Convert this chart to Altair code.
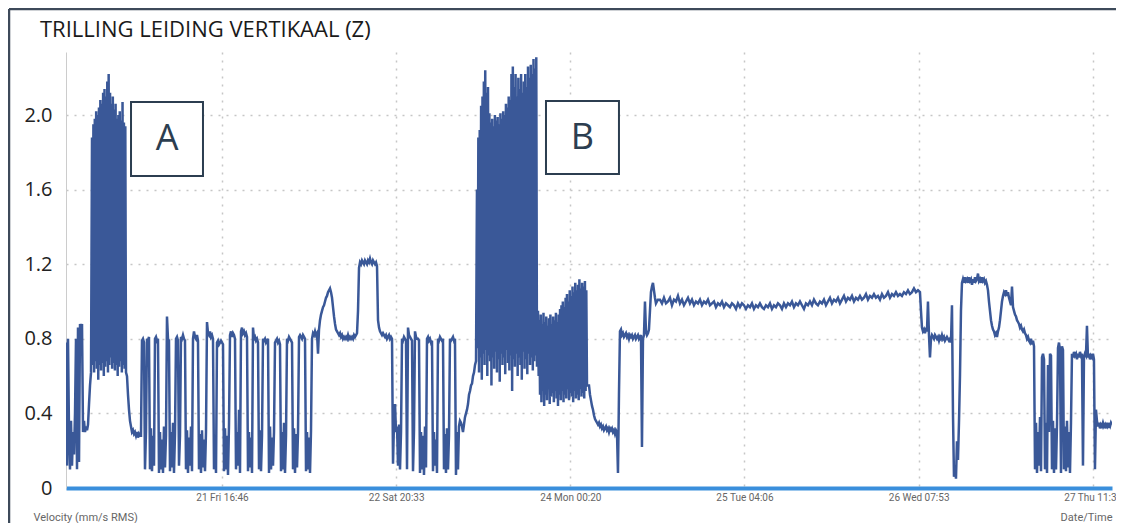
import altair as alt
import numpy as np
import pandas as pd

# ---------------------------------------------------------------- data
START = "2019-06-20 15:53"
END_HOURS = 166.84          # length of the recording shown, hours
Y_MAX = 2.338
CHART_TITLE = "TRILLING LEIDING VERTIKAAL (Z)"

tick_times = ["2019-06-21 16:46", "2019-06-22 20:33", "2019-06-24 00:20",
              "2019-06-25 04:06", "2019-06-26 07:53", "2019-06-27 11:39"]
y_grid_values = [0.0, 0.2, 0.4, 0.6, 0.8, 1.0, 1.2, 1.4, 1.6, 1.8, 2.0, 2.2]

# each block: (start hour, end hour) and readings sampled evenly inside it
s1_span = (0.00, 3.99)
s1_vals = [0.78, 0.12, 0.80, 0.30, 0.10, 0.36, 0.12, 0.30, 0.18, 0.40, 0.80, 0.10, 0.86,
           0.14, 0.88, 0.78, 0.88, 0.30, 0.36, 0.30, 0.33, 0.31, 0.34, 0.45, 0.55, 0.62]

a_span = (4.15, 9.57)   # episode A: peaks / troughs
a_hi = [1.88, 1.95, 1.98, 2.02, 2.00, 2.04, 2.08, 2.06, 2.12, 2.14, 2.10, 2.18, 2.22,
        2.12, 2.06, 2.10, 2.03, 2.06, 1.98, 2.00, 2.02, 1.97, 2.07, 1.96, 1.94]
a_lo = [0.66, 0.62, 0.68, 0.64, 0.58, 0.66, 0.63, 0.67, 0.60, 0.65, 0.68, 0.62, 0.66,
        0.70, 0.64, 0.67, 0.63, 0.66, 0.60, 0.65, 0.68, 0.62, 0.66, 0.64, 0.62]

s2_span = (9.73, 11.80)
s2_vals = [0.60, 0.50, 0.42, 0.36, 0.33, 0.30, 0.31, 0.29, 0.30, 0.28, 0.30, 0.27, 0.29, 0.28]

p1_span = (11.96, 39.08)
p1_vals = [0.28, 0.79, 0.80, 0.78, 0.10, 0.30, 0.80, 0.79, 0.81, 0.10,
           0.32, 0.09, 0.28, 0.12, 0.80, 0.81, 0.79, 0.80, 0.08, 0.30,
           0.10, 0.26, 0.08, 0.33, 0.11, 0.28, 0.92, 0.80, 0.79, 0.09,
           0.30, 0.11, 0.35, 0.08, 0.29, 0.80, 0.81, 0.79, 0.12, 0.28,
           0.81, 0.80, 0.82, 0.80, 0.79, 0.10, 0.31, 0.08, 0.27, 0.12,
           0.33, 0.09, 0.80, 0.84, 0.81, 0.80, 0.82, 0.79, 0.10, 0.29,
           0.08, 0.31, 0.11, 0.26, 0.09, 0.30, 0.89, 0.83, 0.82, 0.84,
           0.81, 0.82, 0.80, 0.10, 0.28, 0.08, 0.78, 0.79, 0.77, 0.78,
           0.79, 0.78, 0.77, 0.09, 0.32, 0.10, 0.28, 0.07, 0.34, 0.82,
           0.84, 0.81, 0.83, 0.82, 0.80, 0.10, 0.30, 0.12, 0.42, 0.08,
           0.84, 0.86, 0.83, 0.84, 0.82, 0.83, 0.81, 0.09, 0.30, 0.11,
           0.27, 0.08, 0.86, 0.80, 0.81, 0.79, 0.80, 0.78, 0.10, 0.31,
           0.09, 0.28, 0.80, 0.79, 0.80, 0.78, 0.79, 0.80, 0.08, 0.33,
           0.10, 0.27, 0.12, 0.30, 0.78, 0.79, 0.80, 0.78, 0.79, 0.77,
           0.09, 0.30, 0.10, 0.35, 0.08, 0.28, 0.80, 0.79, 0.81, 0.80,
           0.79, 0.78, 0.10, 0.32, 0.08, 0.29, 0.11, 0.30, 0.81, 0.82,
           0.81, 0.80, 0.82, 0.81, 0.80, 0.09, 0.30, 0.10, 0.27, 0.08, 0.31]

pl_span = (39.24, 52.00)
pl_vals = [0.80, 0.83, 0.82, 0.84, 0.82, 0.83, 0.72, 0.85, 0.90, 0.93,
           0.95, 0.97, 0.98, 1.00, 1.02, 1.03, 1.05, 1.06, 1.07, 1.05,
           1.02, 0.97, 0.92, 0.88, 0.85, 0.84, 0.83, 0.82, 0.83, 0.81,
           0.82, 0.80, 0.81, 0.80, 0.81, 0.80, 0.82, 0.80, 0.81, 0.80,
           0.81, 0.80, 0.82, 0.81, 0.82, 0.83, 0.95, 1.18, 1.21, 1.20,
           1.22, 1.21, 1.20, 1.22, 1.21, 1.20, 1.22, 1.21, 1.23, 1.21,
           1.20, 1.22, 1.21, 1.20, 1.21, 1.19, 0.90, 0.86, 0.84, 0.83,
           0.82, 0.83, 0.82, 0.81, 0.82, 0.80, 0.81, 0.82, 0.80, 0.81, 0.80]

p2_span = (52.16, 62.68)
p2_vals = [0.13, 0.36, 0.45, 0.30, 0.33, 0.12, 0.34, 0.10, 0.30, 0.80,
           0.79, 0.81, 0.80, 0.79, 0.10, 0.86, 0.82, 0.81, 0.80, 0.79,
           0.09, 0.31, 0.84, 0.81, 0.80, 0.80, 0.79, 0.08, 0.30, 0.10,
           0.28, 0.07, 0.33, 0.11, 0.80, 0.81, 0.79, 0.80, 0.78, 0.79,
           0.09, 0.30, 0.12, 0.26, 0.08, 0.80, 0.79, 0.81, 0.80, 0.79,
           0.80, 0.10, 0.29, 0.08, 0.32, 0.10, 0.28, 0.80, 0.79, 0.80,
           0.81, 0.79, 0.80, 0.07, 0.30, 0.10, 0.33]

r_span = (62.84, 65.40)
r_vals = [0.36, 0.35, 0.33, 0.30, 0.34, 0.38, 0.40, 0.42, 0.45, 0.50, 0.52, 0.55,
          0.56, 0.60, 0.62, 0.66, 0.68]

b1_span = (65.55, 75.12)   # episode B, first part
b1_hi = [1.60, 1.88, 1.92, 2.05, 2.10, 2.18, 2.24, 2.12, 2.15, 2.01, 1.96, 1.98, 1.94,
         2.00, 1.97, 1.99, 1.95, 2.01, 1.98, 2.02, 2.00, 2.06, 2.04, 2.10, 2.08, 2.22,
         2.26, 2.15, 2.22, 2.10, 2.20, 2.14, 2.22, 2.12, 2.18, 2.22, 2.15, 2.26, 2.20,
         2.27, 2.22, 2.30, 2.25, 2.31]
b1_lo = [0.75, 0.62, 0.70, 0.58, 0.72, 0.66, 0.74, 0.60, 0.71, 0.68, 0.55, 0.70, 0.64,
         0.73, 0.62, 0.69, 0.57, 0.72, 0.66, 0.70, 0.61, 0.74, 0.67, 0.63, 0.71, 0.52,
         0.69, 0.65, 0.72, 0.60, 0.70, 0.66, 0.58, 0.73, 0.64, 0.69, 0.61, 0.72, 0.66,
         0.70, 0.63, 0.68, 0.71, 0.65]

b2_span = (75.28, 83.10)   # episode B, second part
b2_hi = [0.95, 0.90, 0.93, 0.88, 0.94, 0.89, 0.92, 0.87, 0.91, 0.93, 0.88, 0.92,
         0.90, 0.94, 0.89, 0.93, 0.96, 0.98, 1.00, 0.97, 1.02, 1.04, 1.00, 1.06,
         1.03, 1.08, 1.05, 1.10, 1.06, 1.09, 1.12, 1.07, 1.10, 1.08, 1.11, 1.06]
b2_lo = [0.60, 0.50, 0.46, 0.52, 0.44, 0.50, 0.47, 0.53, 0.45, 0.49, 0.51, 0.46,
         0.52, 0.48, 0.44, 0.50, 0.47, 0.52, 0.46, 0.50, 0.48, 0.53, 0.47, 0.51,
         0.49, 0.46, 0.52, 0.48, 0.50, 0.47, 0.53, 0.49, 0.51, 0.48, 0.52, 0.55]

s3_span = (83.42, 88.20)
s3_vals = [0.55, 0.50, 0.47, 0.44, 0.42, 0.39, 0.37, 0.36, 0.35, 0.34, 0.35, 0.33, 0.34,
           0.32, 0.33, 0.31, 0.32, 0.33, 0.31, 0.32, 0.30, 0.32, 0.31, 0.32, 0.30, 0.31,
           0.29, 0.31, 0.30, 0.08, 0.50]

s4_span = (88.36, 94.42)
s4_vals = [0.84, 0.85, 0.82, 0.83, 0.81, 0.82, 0.83, 0.81, 0.82, 0.80, 0.82, 0.81, 0.82,
           0.80, 0.81, 0.82, 0.80, 0.81, 0.82, 0.80, 0.81, 0.82, 0.22, 0.80, 0.82, 1.00,
           0.84, 0.82, 0.83, 0.85, 0.95, 1.05, 1.08, 1.10, 1.06, 1.02, 0.99, 1.00, 1.01]

s5_span = (94.74, 136.21)
s5_vals = [1.01, 0.99, 1.02, 0.99, 1.00, 1.02, 0.98, 1.01, 1.00, 1.03, 0.99, 1.01, 0.98, 1.00,
           1.02, 0.99, 1.01, 0.98, 1.00, 0.99,
           1.01, 0.98, 1.00, 0.99, 1.01, 0.98, 0.99, 1.00, 0.97, 0.99, 0.98, 1.00, 0.97, 0.99,
           0.98, 0.97, 0.99, 0.98, 0.96, 0.99,
           0.97, 0.99, 0.98, 0.96, 0.98, 0.97, 0.99, 0.96, 0.98, 0.97, 0.99, 0.97, 0.96, 0.98,
           0.97, 0.99, 0.96, 0.98, 0.97, 0.99,
           0.98, 0.96, 0.99, 0.97, 0.99, 0.98, 1.00, 0.97, 0.99, 0.98, 1.00, 0.98, 0.96, 0.99,
           0.98, 1.00, 0.98, 1.01, 0.99, 0.98,
           1.00, 0.99, 1.01, 0.98, 1.00, 1.02, 0.99, 1.01, 1.00, 1.02, 0.99, 1.01, 1.03, 1.00,
           1.02, 1.01, 1.03, 1.00, 1.02, 1.01,
           1.03, 1.01, 1.02, 1.04, 1.01, 1.03, 1.02, 1.04, 1.02, 1.03, 1.01, 1.04, 1.02, 1.03,
           1.05, 1.02, 1.04, 1.03, 1.05, 1.03,
           1.04, 1.03, 1.05, 1.04, 1.06, 1.04, 1.05, 1.07, 1.05, 1.06, 1.05]

s6_span = (136.37, 142.91)
s6_vals = [0.95, 0.86, 0.84, 0.85, 0.83, 0.86, 0.84, 1.00, 0.82, 0.70, 0.80, 0.82, 0.81,
           0.80, 0.82, 0.81, 0.80, 0.81, 0.79, 0.81, 0.80, 0.82, 0.80, 0.81, 0.79, 0.80,
           0.81, 0.80, 0.79, 0.80, 0.78, 0.98, 0.40, 0.06, 0.12, 0.05, 0.25, 0.15, 0.35,
           0.60, 0.95, 1.10]

s7_span = (143.07, 154.40)
s7_vals = [1.12, 1.10, 1.13, 1.11, 1.12, 1.10, 1.13, 1.11, 1.12, 1.09,
           1.12, 1.10, 1.13, 1.11, 1.12, 1.15, 1.11, 1.12, 1.10, 1.13,
           1.11, 1.12, 1.10, 1.11, 1.09, 1.06, 1.00, 0.95, 0.90, 0.87,
           0.85, 0.84, 0.82, 0.83, 0.81, 0.84, 0.86, 0.90, 0.95, 1.00,
           1.03, 1.05, 1.04, 1.06, 1.03, 1.05, 1.02, 1.00, 0.98, 1.08,
           0.97, 0.95, 0.93, 0.92, 0.90, 0.89, 0.88, 0.86, 0.87, 0.85,
           0.84, 0.85, 0.83, 0.82, 0.80, 0.81, 0.79, 0.78, 0.80, 0.77,
           0.79, 0.76]

p3_span = (154.56, 164.44)
p3_vals = [0.10, 0.35, 0.08, 0.30, 0.12, 0.38, 0.09, 0.70, 0.72, 0.69,
           0.10, 0.35, 0.08, 0.66, 0.30, 0.72, 0.71, 0.10, 0.36, 0.08,
           0.32, 0.10, 0.34, 0.75, 0.78, 0.74, 0.08, 0.76, 0.74, 0.10,
           0.33, 0.09, 0.36, 0.11, 0.30, 0.08, 0.35, 0.72, 0.70, 0.73,
           0.71, 0.72, 0.69, 0.72, 0.70, 0.73, 0.71, 0.72, 0.12, 0.70,
           0.72, 0.71, 0.87, 0.70, 0.72, 0.69, 0.71, 0.70, 0.72, 0.69,
           0.10, 0.42, 0.36]

s8_span = (164.60, 166.84)
s8_vals = [0.33, 0.35, 0.32, 0.34, 0.33, 0.35, 0.33, 0.34, 0.32, 0.35, 0.33, 0.34,
           0.33, 0.35, 0.34]

# annotation boxes (time in hours from START, velocity range)
box_labels = ["A", "B"]
box_start_h = [10.37, 76.56]
box_end_h = [21.85, 88.20]
box_low = [1.673, 1.684]
box_high = [2.070, 2.075]


# ---------------------------------------------------------------- tables
def interleave(hi, lo):
    out = []
    for h, l in zip(hi, lo):
        out += [h, l]
    return out


blocks = [
    (s1_span, s1_vals), (a_span, interleave(a_hi, a_lo)), (s2_span, s2_vals),
    (p1_span, p1_vals), (pl_span, pl_vals), (p2_span, p2_vals), (r_span, r_vals),
    (b1_span, interleave(b1_hi, b1_lo)), (b2_span, interleave(b2_hi, b2_lo)),
    (s3_span, s3_vals), (s4_span, s4_vals), (s5_span, s5_vals), (s6_span, s6_vals),
    (s7_span, s7_vals), (p3_span, p3_vals), (s8_span, s8_vals),
]
hours, vel = [], []
for (h0, h1), vals in blocks:
    hours += list(np.linspace(h0, h1, len(vals)))
    vel += list(vals)

start = pd.Timestamp(START)
end = start + pd.to_timedelta(END_HOURS, unit="h")
df = pd.DataFrame({
    "time": start + pd.to_timedelta(np.array(hours), unit="h"),
    "velocity": vel,
})

boxes = pd.DataFrame({
    "label": box_labels,
    "t0": start + pd.to_timedelta(np.array(box_start_h), unit="h"),
    "t1": start + pd.to_timedelta(np.array(box_end_h), unit="h"),
    "tm": start + pd.to_timedelta((np.array(box_start_h) + np.array(box_end_h)) / 2, unit="h"),
    "v0": box_low,
    "v1": box_high,
    "vm": [(a + b) / 2 for a, b in zip(box_low, box_high)],
})


def dt(ts):
    ts = pd.Timestamp(ts)
    return alt.DateTime(year=ts.year, month=ts.month, date=ts.day,
                        hours=ts.hour, minutes=ts.minute, seconds=ts.second)


# ---------------------------------------------------------------- styles
FONT = "Open Sans"
SMALL = "Roboto"
LINE = "#3a5898"
INK = "#2c3e50"
GRID = "#c6c6c6"
W, H = 1046, 436

x_axis = alt.Axis(
    values=[dt(t) for t in tick_times], format="%d %a %H:%M",
    labelFont=SMALL, labelFontSize=10, labelColor="#666666", labelPadding=4,
    labelFlush=False, labelOverlap=False, ticks=False,
    grid=True, gridColor=GRID, gridDash=[2, 6], gridWidth=1.5,
    domainColor="#3a8fdc", domainWidth=4,
    title="Date/Time", titleFont=SMALL, titleFontSize=11, titleFontWeight="normal",
    titleColor="#666666", titleX=W, titleY=29, titleAlign="right", titleBaseline="middle",
)
y_axis = alt.Axis(
    values=y_grid_values,
    labelExpr="round(datum.value * 10) % 4 == 0 ? (datum.value == 0 ? '0' : format(datum.value, '.1f')) : ''",
    labelFont=FONT, labelFontSize=20, labelColor="#222222", labelPadding=14, ticks=False,
    grid=True, gridColor=GRID, gridDash=[2, 6], gridWidth=1.5,
    domainColor="#cccccc", domainWidth=1,
    title="Velocity (mm/s RMS)", titleAngle=0, titleX=-33, titleY=H + 29,
    titleAlign="left", titleBaseline="middle", titleFont=SMALL, titleFontSize=11,
    titleFontWeight="normal", titleColor="#666666",
)

line = alt.Chart(df).mark_line(color=LINE, strokeWidth=2.5, clip=True).encode(
    x=alt.X("time:T", scale=alt.Scale(domain=[dt(start), dt(end)]), axis=x_axis),
    y=alt.Y("velocity:Q", scale=alt.Scale(domain=[0, Y_MAX], nice=False, zero=False), axis=y_axis),
)

box_rect = alt.Chart(boxes).mark_rect(fill="white", stroke=INK, strokeWidth=2).encode(
    x=alt.X("t0:T", title="Date/Time"), x2="t1:T",
    y=alt.Y("v0:Q", title="Velocity (mm/s RMS)"), y2="v1:Q",
)
box_text = alt.Chart(boxes).mark_text(font=FONT, fontSize=36, color=INK,
                                      align="center", baseline="middle").encode(
    x=alt.X("tm:T", title="Date/Time"),
    y=alt.Y("vm:Q", title="Velocity (mm/s RMS)"),
    text="label:N",
)

frame_data = pd.DataFrame({"edge": ["frame"]})
frame_top = alt.Chart(frame_data).mark_rule(color="#3d4a5a", strokeWidth=2.5).encode(
    x=alt.value(-57), x2=alt.value(W + 10), y=alt.value(-43))
frame_left = alt.Chart(frame_data).mark_rule(color="#3d4a5a", strokeWidth=2.5).encode(
    x=alt.value(-57), y=alt.value(-43), y2=alt.value(H + 40))
title_text = alt.Chart(frame_data).mark_text(
    text=CHART_TITLE, font=FONT, fontSize=22, color="#1a1a1a",
    align="left", baseline="alphabetic").encode(x=alt.value(-26), y=alt.value(-15))

chart = alt.layer(line, box_rect, box_text, frame_top, frame_left, title_text).properties(
    width=W, height=H,
    padding={"left": 58, "top": 44, "right": 4, "bottom": 35},
    autosize=alt.AutoSizeParams(type="none"),
).configure_view(strokeWidth=0)

chart.save("out.html", embed_options={"renderer": "svg", "actions": False})
